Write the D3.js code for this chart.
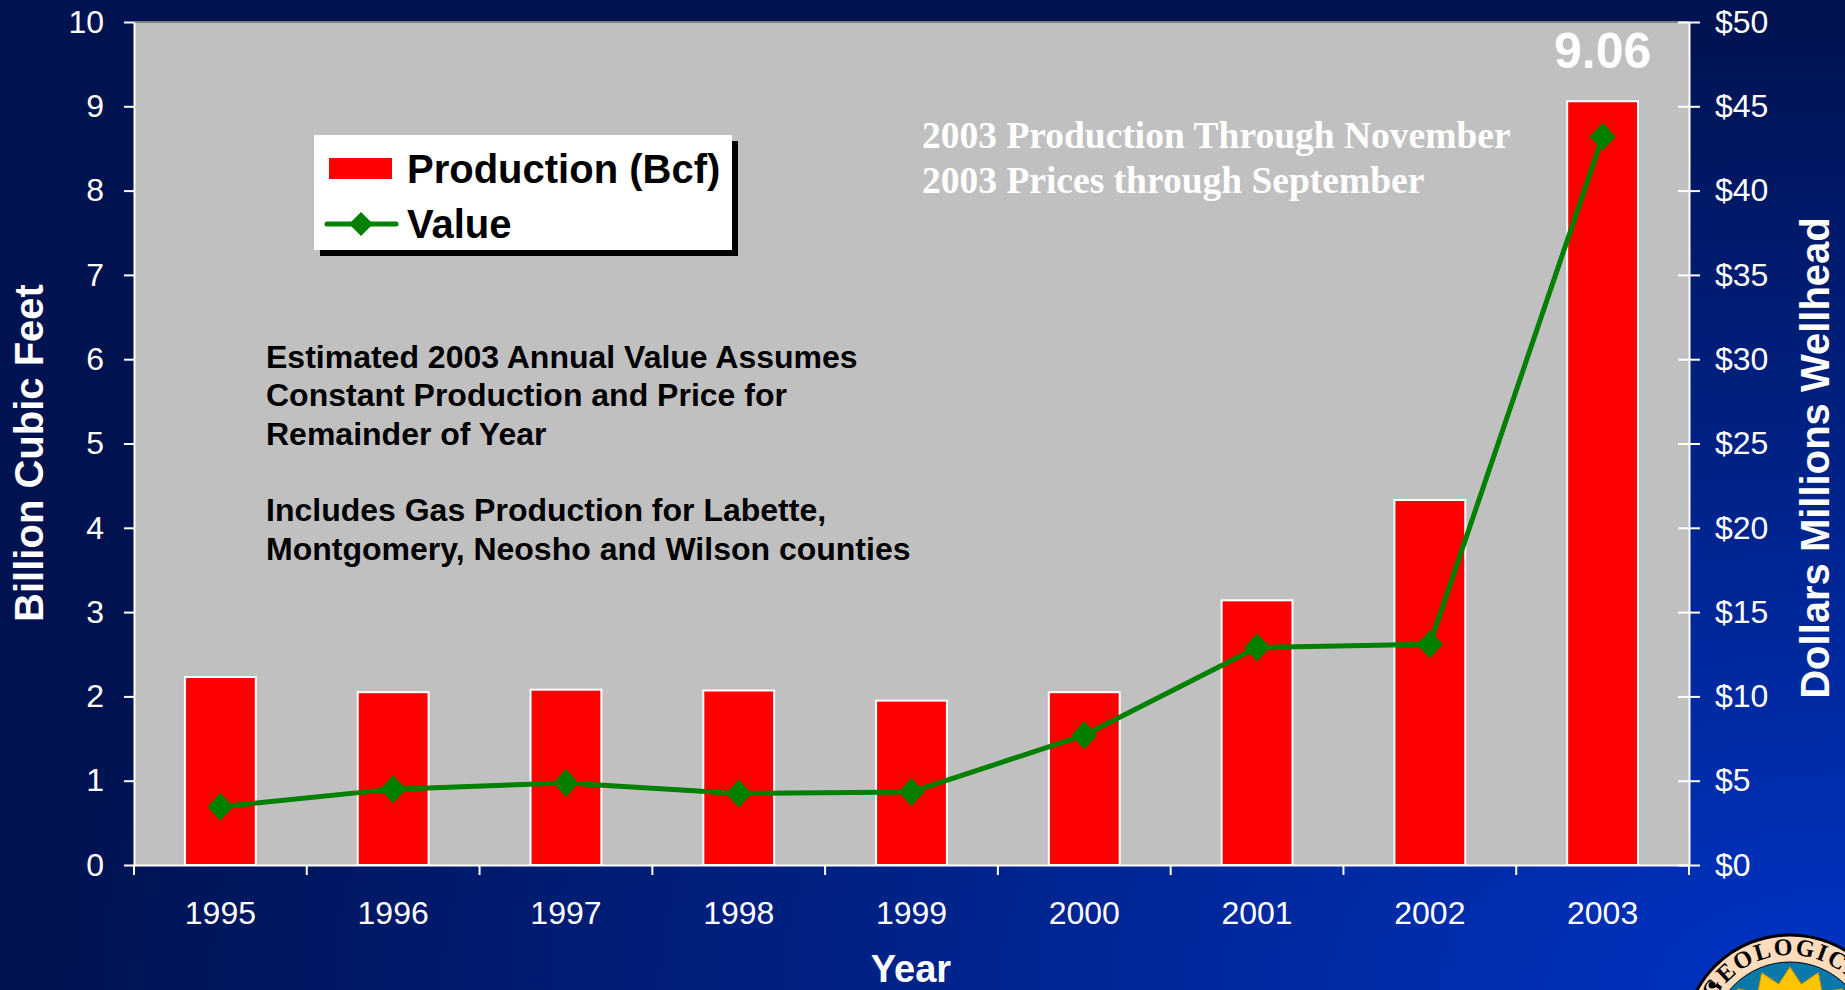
<!DOCTYPE html>
<html>
<head>
<meta charset="utf-8">
<script src="https://cdn.jsdelivr.net/npm/d3@7"></script>
<style>
  html, body { margin: 0; padding: 0; overflow: hidden; background: #00124f; }
  svg { display: block; }
  text { font-family: "Liberation Sans", Arial, sans-serif; }
</style>
</head>
<body>
<div class="main"></div>
<script>
// chart values
let years = ["1995", "1996", "1997", "1998", "1999", "2000", "2001", "2002", "2003"];
let production = [2.23, 2.05, 2.08, 2.07, 1.95, 2.05, 3.14, 4.33, 9.06];   // Bcf
let wellheadValue = [3.46, 4.5, 4.86, 4.24, 4.33, 7.7, 12.9, 13.1, 43.2];   // $ millions
let leftTicks = [0, 1, 2, 3, 4, 5, 6, 7, 8, 9, 10];
let rightTicks = [0, 5, 10, 15, 20, 25, 30, 35, 40, 45, 50];
let notes = [
  "Estimated 2003 Annual Value Assumes",
  "Constant Production and Price for",
  "Remainder of Year",
  "",
  "Includes Gas Production for Labette,",
  "Montgomery, Neosho and Wilson counties"
];
let dateNotes = ["2003 Production Through November", "2003 Prices through September"];

let width = 1845,
    height = 990;

let svg = d3.select("div.main").append("svg")
  .attr("width", width)
  .attr("height", height);

// background gradient, brighter toward the bottom right
let defs = svg.append("defs");
let grad = defs.append("radialGradient")
  .attr("id", "bg")
  .attr("cx", "100%").attr("cy", "100%").attr("r", "100%")
  .attr("fx", "100%").attr("fy", "100%");
grad.append("stop").attr("offset", "0%").attr("stop-color", "#0034c6");
grad.append("stop").attr("offset", "100%").attr("stop-color", "#00124f");

svg.append("rect")
  .attr("width", width)
  .attr("height", height)
  .attr("fill", "url(#bg)");

// plot area
let plotL = 134, plotR = 1689, plotT = 22, plotB = 865;

let x = d3.scaleBand()
  .domain(years)
  .range([plotL, plotR])
  .padding(0);

let yLeft = d3.scaleLinear().domain([0, 10]).range([plotB, plotT]);
let yRight = d3.scaleLinear().domain([0, 50]).range([plotB, plotT]);

svg.append("rect")
  .attr("x", plotL)
  .attr("y", plotT)
  .attr("width", plotR - plotL)
  .attr("height", plotB - plotT)
  .attr("fill", "#c0c0c0");

svg.append("line")
  .attr("x1", plotL).attr("x2", plotR)
  .attr("y1", plotT).attr("y2", plotT)
  .attr("stroke", "#808080")
  .attr("stroke-width", 2);

// bars
let barW = x.bandwidth() * 0.41;
svg.append("g").selectAll("rect")
  .data(years)
  .enter().append("rect")
    .attr("x", function(d) { return x(d) + (x.bandwidth() - barW) / 2; })
    .attr("y", function(d, i) { return yLeft(production[i]); })
    .attr("width", barW)
    .attr("height", function(d, i) { return yLeft(0) - yLeft(production[i]); })
    .attr("fill", "#ff0000")
    .attr("stroke", "#ffffff")
    .attr("stroke-width", 2);

// value line
let line = d3.line()
  .x(function(d, i) { return x(years[i]) + x.bandwidth() / 2; })
  .y(function(d) { return yRight(d); });

svg.append("path")
  .datum(wellheadValue)
  .attr("d", line)
  .attr("fill", "none")
  .attr("stroke", "#008000")
  .attr("stroke-width", 5)
  .attr("stroke-linejoin", "round");

function diamond(cx, cy, hw, hh) {
  return "M" + cx + "," + (cy - hh) + "L" + (cx + hw) + "," + cy +
    "L" + cx + "," + (cy + hh) + "L" + (cx - hw) + "," + cy + "Z";
}

svg.append("g").selectAll("path")
  .data(wellheadValue)
  .enter().append("path")
    .attr("d", function(d, i) {
      return diamond(x(years[i]) + x.bandwidth() / 2, yRight(d), 13, 14);
    })
    .attr("fill", "#008000");

// axes
let axisLeft = svg.append("g")
  .attr("transform", "translate(" + plotL + ",0)")
  .call(d3.axisLeft(yLeft).tickValues(leftTicks).tickSize(10).tickPadding(20).tickSizeOuter(0));

let axisRight = svg.append("g")
  .attr("transform", "translate(" + plotR + ",0)")
  .call(d3.axisRight(yRight).tickValues(rightTicks).tickSize(11).tickPadding(15).tickSizeOuter(0)
    .tickFormat(function(d) { return "$" + d; }));
// right ticks cross the axis
axisRight.selectAll(".tick").append("line")
  .attr("x1", -11).attr("x2", 0)
  .attr("stroke", "#ffffff");

let axisBottom = svg.append("g")
  .attr("transform", "translate(0," + plotB + ")")
  .call(d3.axisBottom(x).tickSize(0).tickPadding(36).tickSizeOuter(0));

// bottom ticks sit between the categories
let bounds = years.map(function(d) { return x(d); }).concat([plotR]);
axisBottom.selectAll(".sep")
  .data(bounds)
  .enter().append("line")
    .attr("class", "sep")
    .attr("x1", function(d) { return d; })
    .attr("x2", function(d) { return d; })
    .attr("y1", 0).attr("y2", 10)
    .attr("stroke", "#ffffff")
    .attr("stroke-width", 2);

[axisLeft, axisRight, axisBottom].forEach(function(a) {
  a.select(".domain").attr("stroke", "#ffffff").attr("stroke-width", 2);
  a.selectAll(".tick line").attr("stroke", "#ffffff").attr("stroke-width", 2);
  a.selectAll(".tick text")
    .attr("fill", "#ffffff")
    .style("font-size", "32px")
    .style("font-family", "'Liberation Sans', Arial, sans-serif");
});

// axis titles
svg.append("text")
  .attr("transform", "translate(43,453) rotate(-90)")
  .attr("text-anchor", "middle")
  .attr("fill", "#ffffff")
  .style("font-size", "40px")
  .style("font-weight", "bold")
  .text("Billion Cubic Feet");

svg.append("text")
  .attr("transform", "translate(1829,458) rotate(-90)")
  .attr("text-anchor", "middle")
  .attr("fill", "#ffffff")
  .style("font-size", "40px")
  .style("font-weight", "bold")
  .text("Dollars Millions Wellhead");

svg.append("text")
  .attr("x", 911)
  .attr("y", 982)
  .attr("text-anchor", "middle")
  .attr("fill", "#ffffff")
  .style("font-size", "38px")
  .style("font-weight", "bold")
  .text("Year");

// label on the 2003 bar
svg.append("text")
  .attr("x", x("2003") + x.bandwidth() / 2)
  .attr("y", 68)
  .attr("text-anchor", "middle")
  .attr("fill", "#ffffff")
  .style("font-size", "50px")
  .style("font-weight", "bold")
  .text(d3.format(".2f")(production[8]));

// legend
let legend = svg.append("g");
legend.append("rect")
  .attr("x", 320).attr("y", 141)
  .attr("width", 418).attr("height", 115)
  .attr("fill", "#000000");
legend.append("rect")
  .attr("x", 314).attr("y", 135)
  .attr("width", 418).attr("height", 115)
  .attr("fill", "#ffffff");
legend.append("rect")
  .attr("x", 329).attr("y", 158)
  .attr("width", 63).attr("height", 21)
  .attr("fill", "#ff0000");
legend.append("line")
  .attr("x1", 327).attr("x2", 396)
  .attr("y1", 224).attr("y2", 224)
  .attr("stroke", "#008000")
  .attr("stroke-width", 5)
  .attr("stroke-linecap", "round");
legend.append("path")
  .attr("d", diamond(361, 224, 12, 12))
  .attr("fill", "#008000");
legend.append("text")
  .attr("x", 407).attr("y", 183)
  .style("font-size", "40px")
  .style("font-weight", "bold")
  .text("Production (Bcf)");
legend.append("text")
  .attr("x", 407).attr("y", 238)
  .style("font-size", "40px")
  .style("font-weight", "bold")
  .text("Value");

// notes
svg.append("g").selectAll("text")
  .data(notes)
  .enter().append("text")
    .attr("x", 266)
    .attr("y", function(d, i) { return 368 + i * 38.3; })
    .attr("fill", "#000000")
    .style("font-size", "32px")
    .style("font-weight", "bold")
    .text(function(d) { return d; });

svg.append("g").selectAll("text")
  .data(dateNotes)
  .enter().append("text")
    .attr("x", 922)
    .attr("y", function(d, i) { return 148 + i * 45; })
    .attr("fill", "#ffffff")
    .style("font-family", "'Liberation Serif', 'Times New Roman', serif")
    .style("font-size", "37.5px")
    .style("font-weight", "bold")
    .text(function(d) { return d; });

// survey seal, bottom right corner
let seal = svg.append("g").attr("transform", "translate(1790,1041)");
seal.append("circle")
  .attr("r", 106)
  .attr("fill", "#fcdcbc")
  .attr("stroke", "#000000")
  .attr("stroke-width", 3);
seal.append("circle")
  .attr("r", 79)
  .attr("fill", "#0a78a8")
  .attr("stroke", "#000000")
  .attr("stroke-width", 1);
let star = [];
for (let i = 0; i < 32; i++) {
  let a = Math.PI * 2 * i / 32 - Math.PI / 2;
  let r = i % 2 === 0 ? 74 : 58;
  star.push([Math.cos(a) * r, Math.sin(a) * r]);
}
seal.append("path")
  .attr("d", "M" + star.join("L") + "Z")
  .attr("fill", "#ffc400")
  .attr("stroke", "#c89000")
  .attr("stroke-width", 1);
defs.append("path")
  .attr("id", "sealArc")
  .attr("d", "M -86,0 A 86,86 0 0 1 86,0");
seal.append("text")
  .style("font-family", "'Liberation Serif', serif")
  .style("font-size", "24px")
  .style("font-weight", "bold")
  .style("letter-spacing", "2px")
  .attr("fill", "#000000")
  .append("textPath")
    .attr("href", "#sealArc")
    .attr("startOffset", "50%")
    .attr("text-anchor", "middle")
    .text("GEOLOGICAL");
seal.append("circle")
  .attr("cx", -78).attr("cy", -56)
  .attr("r", 3.5)
  .attr("fill", "#000000");
</script>
</body>
</html>
